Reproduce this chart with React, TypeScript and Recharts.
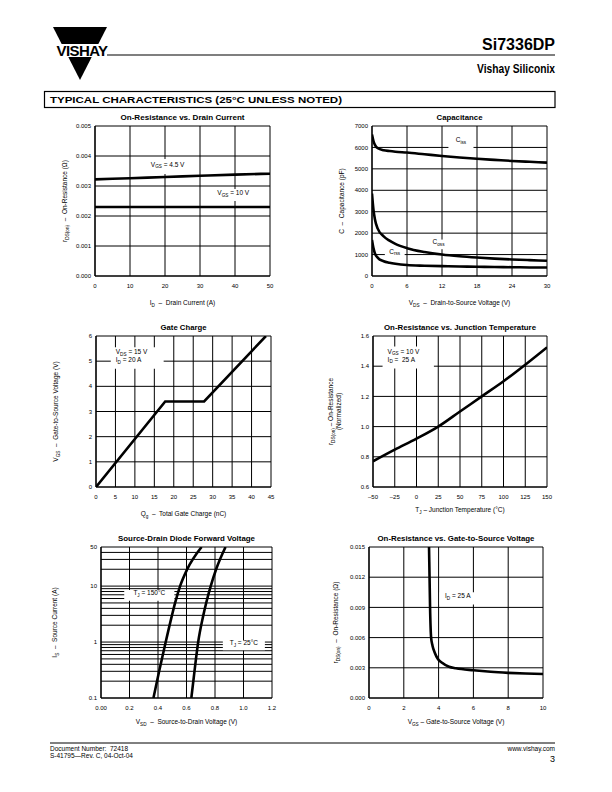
import React from "react";
import { LineChart, Line, XAxis, YAxis, CartesianGrid, ReferenceArea } from "recharts";

const FONT = '"Liberation Sans Narrow", "Liberation Sans", Arial, Helvetica, sans-serif';
const INK = "#000";

// On-Resistance vs. Drain Current
const idAmps = [0, 10, 20, 30, 40, 50];
const rdsVgs45 = [0.00322, 0.00326, 0.0033, 0.00334, 0.00338, 0.00341];
const rdsVgs10 = [0.0023, 0.0023, 0.0023, 0.0023, 0.0023, 0.0023];
const idTicks = [0, 10, 20, 30, 40, 50];
const rdsTicks = [0, 0.001, 0.002, 0.003, 0.004, 0.005];

// Capacitance
const vdsVolts = [0, 0.25, 0.5, 1, 2, 3, 4, 6, 9, 12, 15, 18, 21, 24, 27, 30];
const ciss = [6600, 6300, 6120, 5960, 5870, 5830, 5800, 5760, 5680, 5600, 5530, 5470, 5420, 5370, 5330, 5290];
const coss = [3850, 3100, 2650, 2200, 1850, 1650, 1500, 1300, 1120, 1000, 920, 860, 810, 770, 740, 710];
const crss = [1680, 1300, 1050, 850, 690, 620, 570, 510, 480, 460, 445, 430, 420, 410, 400, 395];
const vdsTicks = [0, 6, 12, 18, 24, 30];
const capTicks = [0, 1000, 2000, 3000, 4000, 5000, 6000, 7000];

// Gate Charge
const qgNc = [0, 17.8, 27.8, 43.7];
const vgsGate = [0, 3.4, 3.4, 6];
const qgTicks = [0, 5, 10, 15, 20, 25, 30, 35, 40, 45];
const vgsTicks = [0, 1, 2, 3, 4, 5, 6];

// On-Resistance vs. Junction Temperature
const tjC = [-50, -25, 0, 25, 50, 75, 100, 125, 150];
const rdsNorm = [0.77, 0.847, 0.92, 1.0, 1.1, 1.2, 1.3, 1.41, 1.525];
const tjTicks = [-50, -25, 0, 25, 50, 75, 100, 125, 150];
const tjTickLabels = ["\u201350", "\u201325", "0", "25", "50", "75", "100", "125", "150"];
const normTicks = [0.6, 0.8, 1.0, 1.2, 1.4, 1.6];

// Source-Drain Diode Forward Voltage
const isAmps = [0.1, 0.3, 1, 3, 5, 10, 20, 50];
const vsd150 = [0.368, 0.408, 0.454, 0.498, 0.52, 0.555, 0.605, 0.706];
const vsd25 = [0.634, 0.656, 0.682, 0.718, 0.738, 0.77, 0.808, 0.874];
const vsdTicks = [0, 0.2, 0.4, 0.6, 0.8, 1.0, 1.2];
const vsdTickLabels = ["0.00", "0.2", "0.4", "0.6", "0.8", "1.0", "1.2"];
const isTicks = [0.1, 0.2, 0.3, 0.4, 0.5, 0.6, 0.7, 0.8, 0.9, 1, 2, 3, 4, 5, 6, 7, 8, 9, 10, 20, 30, 40, 50];
const isLabelled = [0.1, 1, 10, 50];

// On-Resistance vs. Gate-to-Source Voltage
const vgsVolts = [3.45, 3.48, 3.51, 3.57, 3.65, 3.78, 3.95, 4.2, 4.6, 5, 6, 7, 8, 9, 10];
const rdsVsVgs = [0.015, 0.012, 0.009, 0.006, 0.0052, 0.0045, 0.0039, 0.0035, 0.0031, 0.00295, 0.00275, 0.0026, 0.0025, 0.00243, 0.00238];
const vgsXTicks = [0, 2, 4, 6, 8, 10];
const rdsGTicks = [0, 0.003, 0.006, 0.009, 0.012, 0.015];

const d1 = idAmps.map((x, i) => ({ x, a: rdsVgs45[i], b: rdsVgs10[i] }));
const d2 = vdsVolts.map((x, i) => ({ x, ciss: ciss[i], coss: coss[i], crss: crss[i] }));
const d3 = qgNc.map((x, i) => ({ x, v: vgsGate[i] }));
const d4 = tjC.map((x, i) => ({ x, r: rdsNorm[i] }));
const d5a = isAmps.map((y, i) => ({ x: vsd150[i], y }));
const d5b = isAmps.map((y, i) => ({ x: vsd25[i], y }));
const d6 = vgsVolts.map((x, i) => ({ x, r: rdsVsVgs[i] }));

// plot box inside every chart svg
const PL = 60;
const PT = 20;
const XH = 40;
const margin = { top: PT, right: 10, bottom: 0, left: 0 };
const tick = { fontSize: 6, fill: INK, fontFamily: FONT };
const axisLine = { stroke: INK, strokeWidth: 1.2 };

// "V_{GS} = 10 V" -> tspans with subscripts
function rich(s: string, size: number) {
  const parts = s.split(/(_\{[^}]*\})/).filter(Boolean);
  const shift = size * 0.3;
  let down = false;
  return parts.map((p, i) => {
    if (p.startsWith("_{")) {
      down = true;
      return (
        <tspan key={i} dy={shift} fontSize={size * 0.72}>
          {p.slice(2, -1)}
        </tspan>
      );
    }
    const el = (
      <tspan key={i} dy={down ? -shift : 0}>
        {p}
      </tspan>
    );
    down = false;
    return el;
  });
}

const txt = { fontFamily: FONT, fill: INK, style: { whiteSpace: "pre" as const } };

const yTitle = (lines: string[], offs: number[], h: number) => () => (
  <g>
    {lines.map((s, i) => {
      const x = PL - offs[i];
      const y = PT + h / 2;
      return (
        <text key={i} x={x} y={y} dy="0.35em" transform={`rotate(-90 ${x} ${y})`} textAnchor="middle" fontSize={6.5} {...txt}>
          {rich(s, 6.5)}
        </text>
      );
    })}
  </g>
);

const xTitle = (s: string, w: number, h: number, off: number) => () => (
  <text x={PL + w / 2} y={PT + h + off} textAnchor="middle" fontSize={6.5} {...txt}>
    {rich(s, 6.5)}
  </text>
);

const boxText = (lines: string[], align: "start" | "middle" = "middle") => (p: any) => {
  const vb = p.viewBox || { x: 0, y: 0, width: 0, height: 0 };
  const n = lines.length;
  const cy = vb.y + vb.height / 2;
  return (
    <g>
      {lines.map((s, i) => (
        <text
          key={i}
          x={align === "start" ? vb.x + 5 : vb.x + vb.width / 2}
          y={cy + (i - (n - 1) / 2) * 8}
          dy="0.35em"
          textAnchor={align}
          fontSize={6.5}
          {...txt}
        >
          {rich(s, 6.5)}
        </text>
      ))}
    </g>
  );
};

function Frame({ x, y, children }: { x: number; y: number; children: React.ReactNode }) {
  return <div style={{ position: "absolute", left: x - PL, top: y - PT }}>{children}</div>;
}

const lineProps = { stroke: INK, strokeWidth: 2.6, dot: false, isAnimationActive: false, activeDot: false };
const gridProps = { stroke: INK, strokeWidth: 1, strokeOpacity: 1 };
const xProps = { type: "number" as const, tickLine: false, axisLine, tick, height: XH, tickSize: 6, tickMargin: 2, interval: 0 as const, allowDataOverflow: true };
const yProps = { type: "number" as const, tickLine: false, axisLine, tick, width: PL, tickSize: 3, tickMargin: 1, interval: 0 as const, allowDataOverflow: true };
const white = { fill: "#fff", fillOpacity: 1, stroke: "none", ifOverflow: "visible" as const };

const charts = [
  { title: "On-Resistance vs. Drain Current", x: 95, y: 126, w: 175, h: 150, len: 124 },
  { title: "Capacitance", x: 372, y: 126, w: 175, h: 150, len: 46 },
  { title: "Gate Charge", x: 96, y: 336, w: 175, h: 151, len: 46 },
  { title: "On-Resistance vs. Junction Temperature", x: 373, y: 336, w: 174, h: 151, len: 152 },
  { title: "Source-Drain Diode Forward Voltage", x: 101, y: 547, w: 171, h: 151, len: 137 },
  { title: "On-Resistance vs. Gate-to-Source Voltage", x: 369, y: 547, w: 174, h: 151, len: 157 },
];

const size = (c: { w: number; h: number }) => ({ width: c.w + PL + 10, height: c.h + PT + XH });

function Page() {
  return (
    <svg width={612} height={792} style={{ position: "absolute", left: 0, top: 0 }}>
      <rect width={612} height={792} fill="#fff" />
      <polygon points="53,27 107,27 80,80" fill={INK} />
      <rect x={40} y={44} width={76} height={13} fill="#fff" />
      <text x={82} y={56} textAnchor="middle" fontSize={15} fontWeight={900} fontFamily="'Liberation Sans', Arial, sans-serif" letterSpacing={-0.6}>
        VISHAY
      </text>
      <line x1={107} x2={555} y1={55} y2={55} stroke={INK} strokeWidth={1.2} />
      <text x={555} y={50} textAnchor="end" fontSize={16} fontWeight={700} fontFamily="'Liberation Sans', Arial, sans-serif">
        Si7336DP
      </text>
      <text x={555} y={73} textAnchor="end" fontSize={12} fontWeight={700} fontFamily="'Liberation Sans', Arial, sans-serif" textLength={78} lengthAdjust="spacingAndGlyphs">
        Vishay Siliconix
      </text>
      <rect x={44.5} y={91.5} width={510.5} height={16} fill="none" stroke={INK} strokeWidth={1.2} />
      <text x={50} y={103} fontSize={9.5} fontWeight={900} fontFamily="'Liberation Sans', Arial, sans-serif" textLength={292} lengthAdjust="spacingAndGlyphs">
        TYPICAL CHARACTERISTICS (25°C UNLESS NOTED)
      </text>
      {charts.map((c) => (
        <text key={c.title} x={c.x + c.w / 2} y={c.y - 6} textAnchor="middle" fontSize={8} fontWeight={700} fontFamily={FONT} textLength={c.len} lengthAdjust="spacingAndGlyphs">
          {c.title}
        </text>
      ))}
      <line x1={50} x2={555} y1={743} y2={743} stroke={INK} strokeWidth={1} />
      <text x={50} y={751} fontSize={6.5} fontFamily={FONT} style={{ whiteSpace: "pre" }}>
        Document Number:  72418
      </text>
      <text x={50} y={758} fontSize={6.5} fontFamily={FONT}>
        S-41795—Rev. C, 04-Oct-04
      </text>
      <text x={555} y={751} textAnchor="end" fontSize={6.5} fontFamily={FONT}>
        www.vishay.com
      </text>
      <text x={555} y={762} textAnchor="end" fontSize={9} fontFamily={FONT}>
        3
      </text>
    </svg>
  );
}

export default function App() {
  const [c1, c2, c3, c4, c5, c6] = charts;
  return (
    <div style={{ position: "absolute", left: 0, top: 0, width: 612, height: 792, background: "#fff", fontFamily: FONT }}>
      <Page />

      <Frame x={c1.x} y={c1.y}>
        <LineChart {...size(c1)} margin={margin} data={d1}>
          <CartesianGrid {...gridProps} />
          <ReferenceArea x1={14.5} x2={27} y1={0.0034} y2={0.0039} {...white} label={boxText(["V_{GS} = 4.5 V"])} />
          <ReferenceArea x1={33} x2={46} y1={0.0025} y2={0.0029} {...white} label={boxText(["V_{GS} = 10 V"])} />
          <XAxis {...xProps} dataKey="x" domain={[0, 50]} ticks={idTicks} label={xTitle("I_{D}  \u2013  Drain Current (A)", c1.w, c1.h, 29)} />
          <YAxis {...yProps} domain={[0, 0.005]} ticks={rdsTicks} tickFormatter={(v: number) => v.toFixed(3)} label={yTitle(["r_{DS(on)}  \u2013  On-Resistance (\u03A9)"], [28], c1.h)} />
          <Line {...lineProps} type="monotone" dataKey="a" />
          <Line {...lineProps} type="monotone" dataKey="b" />
        </LineChart>
      </Frame>

      <Frame x={c2.x} y={c2.y}>
        <LineChart {...size(c2)} margin={margin} data={d2}>
          <CartesianGrid {...gridProps} />
          <ReferenceArea x1={13.1} x2={17.4} y1={5950} y2={6550} {...white} label={boxText(["C_{iss}"])} />
          <ReferenceArea x1={9.8} x2={13} y1={1250} y2={1700} {...white} label={boxText(["C_{oss}"])} />
          <ReferenceArea x1={2.2} x2={5.6} y1={850} y2={1250} {...white} label={boxText(["C_{rss}"])} />
          <XAxis {...xProps} dataKey="x" domain={[0, 30]} ticks={vdsTicks} label={xTitle("V_{DS}  \u2013  Drain-to-Source Voltage (V)", c2.w, c2.h, 29)} />
          <YAxis {...yProps} domain={[0, 7000]} ticks={capTicks} label={yTitle(["C  \u2013  Capacitance (pF)"], [28], c2.h)} />
          <Line {...lineProps} type="monotone" dataKey="ciss" />
          <Line {...lineProps} type="monotone" dataKey="coss" />
          <Line {...lineProps} type="monotone" dataKey="crss" />
        </LineChart>
      </Frame>

      <Frame x={c3.x} y={c3.y}>
        <LineChart {...size(c3)} margin={margin} data={d3}>
          <CartesianGrid {...gridProps} />
          <ReferenceArea x1={3.8} x2={17.4} y1={4.7} y2={5.55} {...white} label={boxText(["V_{DS} = 15 V", "I_{D} = 20 A"], "start")} />
          <XAxis {...xProps} dataKey="x" domain={[0, 45]} ticks={qgTicks} label={xTitle("Q_{g}  \u2013  Total Gate Charge (nC)", c3.w, c3.h, 29)} />
          <YAxis {...yProps} domain={[0, 6]} ticks={vgsTicks} label={yTitle(["V_{GS}  \u2013  Gate-to-Source Voltage (V)"], [38], c3.h)} />
          <Line {...lineProps} type="linear" dataKey="v" />
        </LineChart>
      </Frame>

      <Frame x={c4.x} y={c4.y}>
        <LineChart {...size(c4)} margin={margin} data={d4}>
          <CartesianGrid {...gridProps} />
          <ReferenceArea x1={-39} x2={20} y1={1.385} y2={1.53} {...white} label={boxText(["V_{GS} = 10 V", "I_{D} =  25 A"], "start")} />
          <XAxis {...xProps} dataKey="x" domain={[-50, 150]} ticks={tjTicks} tickFormatter={(v: number) => tjTickLabels[tjTicks.indexOf(v)]} label={xTitle("T_{J} \u2013 Junction Temperature (\u00B0C)", c4.w, c4.h, 25)} />
          <YAxis {...yProps} domain={[0.6, 1.6]} ticks={normTicks} tickFormatter={(v: number) => v.toFixed(1)} label={yTitle(["r_{DS(on)} \u2013 On-Resistance", "(Normalized)"], [40, 32], c4.h)} />
          <Line {...lineProps} type="monotone" dataKey="r" />
        </LineChart>
      </Frame>

      <Frame x={c5.x} y={c5.y}>
        <LineChart {...size(c5)} margin={margin}>
          <CartesianGrid {...gridProps} />
          <ReferenceArea x1={0.163} x2={0.515} y1={5.5} y2={8.5} {...white} label={boxText(["T_{J} = 150\u00B0C"])} />
          <ReferenceArea x1={0.855} x2={1.15} y1={0.71} y2={1.07} {...white} label={boxText(["T_{J} = 25\u00B0C"])} />
          <XAxis {...xProps} dataKey="x" domain={[0, 1.2]} ticks={vsdTicks} tickFormatter={(v: number) => vsdTickLabels[vsdTicks.indexOf(v)]} label={xTitle("V_{SD}  \u2013  Source-to-Drain Voltage (V)", c5.w, c5.h, 26)} />
          <YAxis {...yProps} scale="log" domain={[0.1, 50]} ticks={isTicks} tickFormatter={(v: number) => (isLabelled.includes(v) ? String(v) : "")} label={yTitle(["I_{S}  \u2013  Source Current (A)"], [44], c5.h)} />
          <Line {...lineProps} type="monotone" data={d5a} dataKey="y" />
          <Line {...lineProps} type="monotone" data={d5b} dataKey="y" />
        </LineChart>
      </Frame>

      <Frame x={c6.x} y={c6.y}>
        <LineChart {...size(c6)} margin={margin} data={d6}>
          <CartesianGrid {...gridProps} />
          <ReferenceArea x1={4.05} x2={6.15} y1={0.0093} y2={0.0105} {...white} label={boxText(["I_{D} = 25 A"])} />
          <XAxis {...xProps} dataKey="x" domain={[0, 10]} ticks={vgsXTicks} label={xTitle("V_{GS} \u2013 Gate-to-Source Voltage (V)", c6.w, c6.h, 26)} />
          <YAxis {...yProps} domain={[0, 0.015]} ticks={rdsGTicks} tickFormatter={(v: number) => v.toFixed(3)} label={yTitle(["r_{DS(on)}  \u2013  On-Resistance (\u03A9)"], [31], c6.h)} />
          <Line {...lineProps} type="monotone" dataKey="r" />
        </LineChart>
      </Frame>
    </div>
  );
}
